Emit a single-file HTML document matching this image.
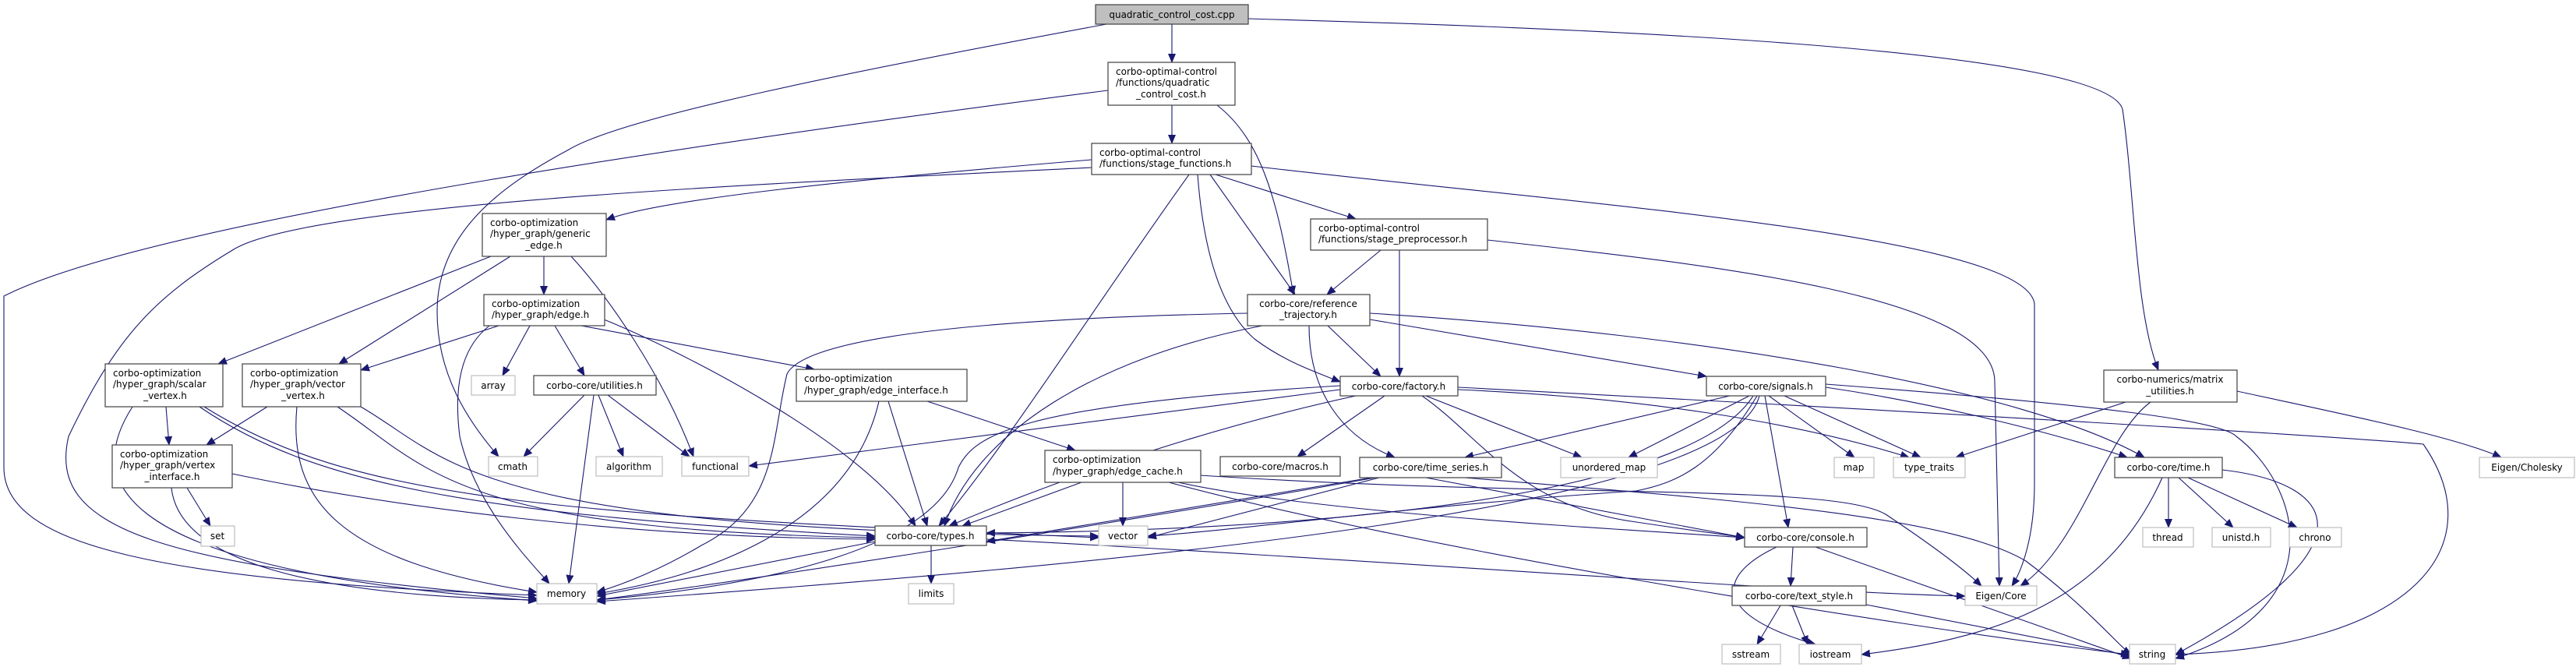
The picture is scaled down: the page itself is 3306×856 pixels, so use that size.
<!DOCTYPE html>
<html><head><meta charset="utf-8"><style>
html,body{margin:0;padding:0;background:#fff;}
svg{display:block;}
text{font-family:"DejaVu Sans","Liberation Sans",sans-serif;font-size:12px;fill:#000;}
.e{fill:none;stroke:#191970;stroke-width:1.1;marker-end:url(#a);}
.n{fill:#fff;stroke:#404040;stroke-width:1.2;}
.g{fill:#fff;stroke:#bfbfbf;stroke-width:1.2;}
</style></head><body>
<svg width="3306" height="856" viewBox="0 0 3306 856" xmlns="http://www.w3.org/2000/svg">
<defs><marker id="a" markerWidth="12" markerHeight="10" refX="11" refY="5" orient="auto" markerUnits="userSpaceOnUse"><path d="M0,0 L12,5 L0,10 z" fill="#191970"/></marker></defs>
<g>
<path class="e" d="M1504,31 L1504,80"/>
<path class="e" d="M1420,31 C1100,90 800,150 730,192 C640,240 561,300 561,400 C561,480 600,540 640,586"/>
<path class="e" d="M1602,24 C2000,35 2700,60 2724,140 C2740,250 2740,400 2770,475"/>
<path class="e" d="M1422,116 C1000,170 200,280 5,380 L5,600 C5,700 200,745 689,764"/>
<path class="e" d="M1562,135 C1620,180 1640,260 1660,378"/>
<path class="e" d="M1504,135 L1504,184"/>
<path class="e" d="M1606,213 C2000,260 2600,300 2611,390 L2611,620 C2611,700 2590,740 2582,752"/>
<path class="e" d="M1909,308 C2200,340 2560,380 2560,490 L2566,752"/>
<path class="e" d="M1401,205 C1100,230 850,255 778,282"/>
<path class="e" d="M1401,215 C1000,235 400,260 300,320 C200,380 150,430 88,560 C60,680 200,725 689,768"/>
<path class="e" d="M1526,224 C1400,400 1300,560 1205,675"/>
<path class="e" d="M1537,224 C1545,330 1570,400 1610,435 C1650,465 1690,478 1720,490"/>
<path class="e" d="M1553,224 L1662,378"/>
<path class="e" d="M1560,224 L1740,281"/>
<path class="e" d="M1772,321 L1703,378"/>
<path class="e" d="M1796,321 L1796,483"/>
<path class="e" d="M1601,402 C1200,410 1030,440 1010,480 C990,560 1000,650 900,700 C850,730 800,750 766,760"/>
<path class="e" d="M1704,418 L1772,483"/>
<path class="e" d="M1758,410 L2190,483"/>
<path class="e" d="M1680,418 C1680,500 1720,560 1790,587"/>
<path class="e" d="M1758,402 C2200,430 2600,500 2752,587"/>
<path class="e" d="M1620,418 C1400,460 1250,560 1212,675"/>
<path class="e" d="M698,329 L698,378"/>
<path class="e" d="M630,329 L280,467"/>
<path class="e" d="M655,329 L435,467"/>
<path class="e" d="M733,329 C780,380 850,480 890,586"/>
<path class="e" d="M640,418 L463,475"/>
<path class="e" d="M680,418 L645,482"/>
<path class="e" d="M712,418 L750,482"/>
<path class="e" d="M746,418 L1045,474"/>
<path class="e" d="M628,418 C600,440 580,480 590,560 C610,650 680,720 705,749"/>
<path class="e" d="M775,410 C850,440 1100,560 1175,675"/>
<path class="e" d="M750,507 L672,586"/>
<path class="e" d="M768,507 L800,586"/>
<path class="e" d="M780,507 L885,586"/>
<path class="e" d="M762,507 L730,749"/>
<path class="e" d="M213,522 L217,571"/>
<path class="e" d="M170,522 C120,600 100,730 689,771"/>
<path class="e" d="M256,522 C400,620 600,660 1123,688"/>
<path class="e" d="M262,522 C450,640 700,660 1410,690"/>
<path class="e" d="M343,522 L265,571"/>
<path class="e" d="M381,522 C370,640 430,720 689,760"/>
<path class="e" d="M433,522 C550,600 580,680 1123,690"/>
<path class="e" d="M463,522 C580,590 600,680 1410,688"/>
<path class="e" d="M298,608 C500,650 800,690 1123,692"/>
<path class="e" d="M220,626 C230,720 400,765 689,770"/>
<path class="e" d="M240,626 L270,675"/>
<path class="e" d="M1140,515 L1190,675"/>
<path class="e" d="M1128,515 C1090,680 900,740 766,762"/>
<path class="e" d="M1190,515 L1380,578"/>
<path class="e" d="M1388,619 L1235,675"/>
<path class="e" d="M1441,619 L1441,675"/>
<path class="e" d="M1512,619 C1700,660 2100,680 2239,690"/>
<path class="e" d="M1500,619 C1800,700 2400,800 2733,840"/>
<path class="e" d="M1123,695 L766,765"/>
<path class="e" d="M1195,700 L1195,749"/>
<path class="e" d="M1266,692 C1800,720 2300,760 2522,765"/>
<path class="e" d="M1720,495 C1300,520 1250,560 1230,600 C1200,700 1000,750 766,770"/>
<path class="e" d="M1720,500 L961,598"/>
<path class="e" d="M1777,508 L1665,586"/>
<path class="e" d="M1830,508 L2030,587"/>
<path class="e" d="M1825,508 C1900,560 1950,650 2100,670 C2200,685 2230,688 2239,690"/>
<path class="e" d="M1871,500 C2100,510 2300,540 2450,587"/>
<path class="e" d="M1871,497 C2500,530 3000,560 3110,570 C3200,700 3100,830 2792,840"/>
<path class="e" d="M1740,508 C1500,560 1300,640 1218,675"/>
<path class="e" d="M2220,508 L1880,587"/>
<path class="e" d="M2245,508 L2090,587"/>
<path class="e" d="M2270,508 L2380,587"/>
<path class="e" d="M2290,508 L2465,587"/>
<path class="e" d="M2265,508 L2295,677"/>
<path class="e" d="M2343,497 C2500,520 2650,560 2730,587"/>
<path class="e" d="M2343,493 C2700,520 2850,540 2870,560 C2950,620 3000,780 2792,845"/>
<path class="e" d="M2255,508 C2200,600 2150,620 2100,630 C1800,650 1600,680 1473,688"/>
<path class="e" d="M2250,508 C2180,620 1800,680 1266,684"/>
<path class="e" d="M2258,508 C2220,650 1500,720 766,772"/>
<path class="e" d="M1760,613 L1266,695"/>
<path class="e" d="M1770,613 L1473,690"/>
<path class="e" d="M1765,613 C1500,660 1000,740 766,770"/>
<path class="e" d="M1830,613 L2239,690"/>
<path class="e" d="M1880,613 C2200,640 2500,660 2600,720 C2680,780 2720,830 2735,840"/>
<path class="e" d="M2301,702 L2298,752"/>
<path class="e" d="M2280,702 C2200,740 2200,790 2330,827"/>
<path class="e" d="M2330,702 L2735,845"/>
<path class="e" d="M2285,777 L2255,827"/>
<path class="e" d="M2300,777 L2320,827"/>
<path class="e" d="M2390,775 L2735,842"/>
<path class="e" d="M2783,613 L2783,677"/>
<path class="e" d="M2796,613 L2866,677"/>
<path class="e" d="M2808,613 L2948,677"/>
<path class="e" d="M2775,613 C2700,780 2550,820 2389,840"/>
<path class="e" d="M2852,603 C3000,620 3050,700 2792,840"/>
<path class="e" d="M2728,516 L2510,587"/>
<path class="e" d="M2760,516 C2700,560 2670,700 2593,752"/>
<path class="e" d="M2871,502 C3000,530 3150,560 3210,587"/>
<path class="e" d="M1540,610 C2000,640 2350,620 2420,660 C2480,700 2520,730 2543,752"/>
</g>
<g>
<rect x="1406" y="6" width="196" height="25" fill="#bfbfbf" stroke="#404040" stroke-width="1.2"/>
<text x="1504" y="23" text-anchor="middle">quadratic_control_cost.cpp</text>

<rect class="n" x="1422" y="80" width="163" height="55"/>
<text x="1432" y="96">corbo-optimal-control</text><text x="1432" y="110">/functions/quadratic</text><text x="1503" y="125" text-anchor="middle">_control_cost.h</text>

<rect class="n" x="1401" y="184" width="205" height="40"/>
<text x="1411" y="200">corbo-optimal-control</text><text x="1411" y="214">/functions/stage_functions.h</text>

<rect class="n" x="619" y="274" width="159" height="55"/>
<text x="629" y="290">corbo-optimization</text><text x="629" y="304">/hyper_graph/generic</text><text x="698" y="319" text-anchor="middle">_edge.h</text>

<rect class="n" x="1682" y="281" width="227" height="40"/>
<text x="1692" y="297">corbo-optimal-control</text><text x="1692" y="311">/functions/stage_preprocessor.h</text>

<rect class="n" x="1601" y="378" width="157" height="40"/>
<text x="1679" y="394" text-anchor="middle">corbo-core/reference</text><text x="1679" y="408" text-anchor="middle">_trajectory.h</text>

<rect class="n" x="621" y="378" width="155" height="40"/>
<text x="631" y="394">corbo-optimization</text><text x="631" y="408">/hyper_graph/edge.h</text>

<rect class="n" x="135" y="467" width="151" height="55"/>
<text x="145" y="483">corbo-optimization</text><text x="145" y="497">/hyper_graph/scalar</text><text x="212" y="512" text-anchor="middle">_vertex.h</text>

<rect class="n" x="311" y="467" width="152" height="55"/>
<text x="321" y="483">corbo-optimization</text><text x="321" y="497">/hyper_graph/vector</text><text x="389" y="512" text-anchor="middle">_vertex.h</text>

<rect class="g" x="605" y="482" width="56" height="25"/><text x="633" y="499" text-anchor="middle">array</text>
<rect class="n" x="685" y="482" width="157" height="25"/><text x="763" y="499" text-anchor="middle">corbo-core/utilities.h</text>

<rect class="n" x="1022" y="474" width="219" height="41"/>
<text x="1032" y="490">corbo-optimization</text><text x="1032" y="505">/hyper_graph/edge_interface.h</text>

<rect class="n" x="1720" y="483" width="151" height="25"/><text x="1795" y="500" text-anchor="middle">corbo-core/factory.h</text>
<rect class="n" x="2190" y="483" width="153" height="25"/><text x="2266" y="500" text-anchor="middle">corbo-core/signals.h</text>

<rect class="n" x="2700" y="475" width="171" height="41"/>
<text x="2785" y="491" text-anchor="middle">corbo-numerics/matrix</text><text x="2785" y="506" text-anchor="middle">_utilities.h</text>

<rect class="n" x="144" y="571" width="154" height="55"/>
<text x="154" y="587">corbo-optimization</text><text x="154" y="601">/hyper_graph/vertex</text><text x="221" y="616" text-anchor="middle">_interface.h</text>

<rect class="g" x="627" y="586" width="63" height="25"/><text x="658" y="603" text-anchor="middle">cmath</text>
<rect class="g" x="765" y="586" width="85" height="25"/><text x="807" y="603" text-anchor="middle">algorithm</text>
<rect class="g" x="875" y="586" width="86" height="25"/><text x="918" y="603" text-anchor="middle">functional</text>

<rect class="n" x="1341" y="578" width="200" height="41"/>
<text x="1351" y="594">corbo-optimization</text><text x="1351" y="609">/hyper_graph/edge_cache.h</text>

<rect class="n" x="1566" y="586" width="154" height="25"/><text x="1643" y="603" text-anchor="middle">corbo-core/macros.h</text>
<rect class="n" x="1745" y="587" width="182" height="26"/><text x="1836" y="604" text-anchor="middle">corbo-core/time_series.h</text>
<rect class="g" x="2003" y="587" width="124" height="26"/><text x="2065" y="604" text-anchor="middle">unordered_map</text>
<rect class="g" x="2354" y="587" width="51" height="26"/><text x="2379" y="604" text-anchor="middle">map</text>
<rect class="g" x="2430" y="587" width="92" height="26"/><text x="2476" y="604" text-anchor="middle">type_traits</text>
<rect class="n" x="2714" y="587" width="138" height="26"/><text x="2783" y="604" text-anchor="middle">corbo-core/time.h</text>
<rect class="g" x="3182" y="587" width="122" height="26"/><text x="3243" y="604" text-anchor="middle">Eigen/Cholesky</text>

<rect class="g" x="258" y="675" width="43" height="26"/><text x="279" y="692" text-anchor="middle">set</text>
<rect class="n" x="1123" y="675" width="143" height="25"/><text x="1194" y="692" text-anchor="middle">corbo-core/types.h</text>
<rect class="g" x="1410" y="675" width="63" height="25"/><text x="1441" y="692" text-anchor="middle">vector</text>
<rect class="n" x="2239" y="677" width="157" height="25"/><text x="2317" y="694" text-anchor="middle">corbo-core/console.h</text>
<rect class="g" x="2750" y="677" width="65" height="25"/><text x="2782" y="694" text-anchor="middle">thread</text>
<rect class="g" x="2839" y="677" width="75" height="25"/><text x="2876" y="694" text-anchor="middle">unistd.h</text>
<rect class="g" x="2938" y="677" width="67" height="25"/><text x="2971" y="694" text-anchor="middle">chrono</text>

<rect class="g" x="689" y="749" width="77" height="26"/><text x="727" y="766" text-anchor="middle">memory</text>
<rect class="g" x="1166" y="749" width="58" height="26"/><text x="1195" y="766" text-anchor="middle">limits</text>
<rect class="n" x="2223" y="752" width="172" height="25"/><text x="2309" y="769" text-anchor="middle">corbo-core/text_style.h</text>
<rect class="g" x="2522" y="752" width="92" height="25"/><text x="2568" y="769" text-anchor="middle">Eigen/Core</text>

<rect class="g" x="2210" y="827" width="75" height="25"/><text x="2247" y="844" text-anchor="middle">sstream</text>
<rect class="g" x="2309" y="827" width="80" height="25"/><text x="2349" y="844" text-anchor="middle">iostream</text>
<rect class="g" x="2733" y="827" width="59" height="25"/><text x="2762" y="844" text-anchor="middle">string</text>
</g>
</svg>
</body></html>
